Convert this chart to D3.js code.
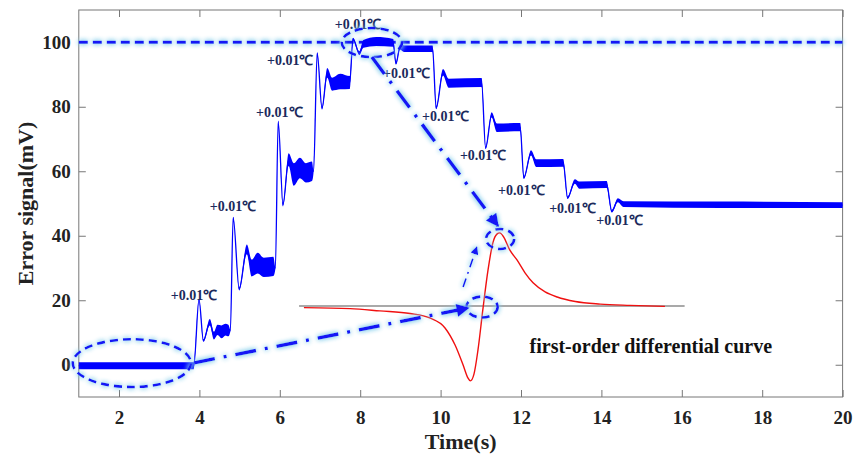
<!DOCTYPE html>
<html>
<head>
<meta charset="utf-8">
<script src="https://cdn.jsdelivr.net/npm/d3@7"></script>
<style>
  body { margin: 0; background: #fff; }
  text { font-family: "Liberation Serif", "Times New Roman", serif; font-weight: bold; }
</style>
</head>
<body>
<script>
// error signal: key points (s, mV) and half-width of the noise band
var sigTime = [1.0, 3.86, 3.99, 4.10, 4.26, 4.36, 4.45, 4.55, 4.65, 4.72, 4.77, 4.84, 4.99, 5.18,
  5.30, 5.45, 5.60, 5.84, 5.89, 5.96, 6.08, 6.22, 6.35, 6.50, 6.65, 6.80, 6.84, 6.93, 7.05, 7.18,
  7.30, 7.50, 7.74, 7.82, 7.98, 8.08, 8.40, 8.82, 8.89, 8.99, 9.10, 9.80, 9.89, 10.06, 10.20,
  11.02, 11.12, 11.27, 11.40, 11.98, 12.07, 12.25, 12.38, 13.05, 13.16, 13.34, 13.45, 14.13,
  14.26, 14.41, 14.55, 17.0, 20.0];
var sigValue = [-0.3, -0.3, 20.2, 7.5, 13.2, 9.0, 10.8, 10.2, 10.9, 10.6, 10.6, 45.6, 23.5, 35.8,
  30.0, 31.5, 30.2, 30.5, 30.0, 75.4, 49.7, 63.6, 59.0, 61.0, 59.5, 60.0, 60.0, 96.6, 79.6, 90.5,
  87.0, 87.8, 87.5, 101.0, 96.6, 99.5, 100.2, 99.8, 93.4, 98.5, 98.0, 98.0, 79.6, 90.7, 87.3,
  87.5, 67.2, 77.5, 73.5, 73.7, 58.0, 65.7, 62.5, 62.6, 51.8, 56.8, 55.7, 55.9,
  47.6, 51.0, 49.8, 49.6, 49.5];
var sigSpread = [1.1, 1.1, 0.3, 0.4, 1.0, 1.2, 1.6, 2.0, 1.8, 1.8, 0.3, 0.3, 0.5, 1.5,
  2.6, 3.2, 3.0, 3.0, 0.3, 0.3, 0.6, 2.0, 3.5, 3.2, 3.0, 3.0, 0.3, 0.3, 0.5, 1.5,
  2.0, 2.4, 2.0, 0.4, 0.6, 1.2, 1.4, 1.2, 0.4, 0.8, 1.0, 1.0, 0.4, 1.0, 1.4,
  1.4, 0.4, 0.8, 1.3, 1.3, 0.4, 0.8, 1.2, 1.2, 0.4, 0.7, 1.1, 1.1,
  0.4, 0.6, 0.9, 1.0, 0.9];

// reference level
var refLevel = 100;

// inset: first-order differential curve, drawn in the main axes units
var diffTime = [6.60, 7.75, 8.49, 9.24, 9.73, 10.11, 10.36, 10.56, 10.68, 10.74, 10.83, 10.93,
  11.05, 11.18, 11.30, 11.40, 11.47, 11.57, 11.72, 11.90, 12.10, 12.30, 12.60, 12.90, 13.35,
  13.97, 14.71, 15.58];
var diffValue = [17.7, 17.4, 16.7, 15.9, 14.5, 11.4, 6.1, -0.1, -4.1, -5.0, -2.9, 4.6,
  17.0, 29.4, 37.8, 40.5, 40.9, 39.6, 35.6, 32.5, 28.5, 25.4, 22.6, 21.0, 19.6,
  18.8, 18.4, 18.1];
var zeroLine = [[6.48, 18.2], [16.07, 18.2]];

// annotations
var stepLabel = '+0.01\u2103';
var stepLabelAt = [[3.29, 21.6], [4.26, 49.2], [5.41, 78.4], [5.68, 94.5], [7.37, 105.7],
  [8.57, 90.4], [9.54, 77.1], [10.48, 65.0], [11.43, 54.2], [12.70, 48.6], [13.87, 44.8]];
// ellipses: centre time, centre value, half-width (s), half-height (mV)
var ellipses = [[2.32, 0.5, 1.47, 7.4], [8.29, 99.9, 0.75, 4.5], [11.48, 39.0, 0.35, 3.1],
  [11.03, 17.9, 0.39, 3.25]];
// arrows: from (s, mV) to (s, mV)
var arrows = [[[3.87, 0.6], [10.69, 17.6]], [[8.29, 95.4], [11.43, 43.0]]];
var smallArrow = [[10.56, 24.1], [10.90, 36.5]];
var curveTitle = 'first-order differential curve';
var curveTitleAt = [15.23, 3.6];

var xTicks = [2, 4, 6, 8, 10, 12, 14, 16, 18, 20];
var yTicks = [0, 20, 40, 60, 80, 100];

var width = 854, height = 457;
var margin = {top: 10, right: 11.4, bottom: 60, left: 78.8};

var svg = d3.select('body').append('svg')
  .attr('width', width)
  .attr('height', height);

var x = d3.scaleLinear().domain([1, 20]).range([margin.left, width - margin.right]);
var y = d3.scaleLinear().domain([-10, 110]).range([height - margin.bottom, margin.top]);

var defs = svg.append('defs');
var glow = defs.append('filter').attr('id', 'glow')
  .attr('filterUnits', 'userSpaceOnUse')
  .attr('x', 0).attr('y', 0).attr('width', width).attr('height', height);
glow.append('feGaussianBlur').attr('in', 'SourceAlpha').attr('stdDeviation', 2.6).attr('result', 'b');
glow.append('feFlood').attr('flood-color', '#8ad0ec');
glow.append('feComposite').attr('in2', 'b').attr('operator', 'in').attr('result', 'g');
var merge = glow.append('feMerge');
merge.append('feMergeNode').attr('in', 'g');
merge.append('feMergeNode').attr('in', 'g');
merge.append('feMergeNode').attr('in', 'SourceGraphic');

function addHead(id, w, h) {
  defs.append('marker').attr('id', id)
    .attr('viewBox', '0 0 10 10')
    .attr('refX', 9).attr('refY', 5)
    .attr('markerUnits', 'userSpaceOnUse')
    .attr('markerWidth', w).attr('markerHeight', h)
    .attr('orient', 'auto')
    .append('path').attr('d', 'M0,0L10,5L0,10Z').attr('fill', '#1414f5');
}
addHead('head', 17, 13);
addHead('headSmall', 10, 8);

var blue = '#1414f5';

// frame + ticks
var tickLen = 7;
svg.append('g').attr('transform', 'translate(0,' + y(-10) + ')')
  .call(d3.axisBottom(x).tickValues(xTicks).tickSize(-tickLen).tickPadding(14))
  .call(styleAxis);
svg.append('g').attr('transform', 'translate(0,' + y(110) + ')')
  .call(d3.axisTop(x).tickValues(xTicks).tickSize(-tickLen).tickFormat(''))
  .call(styleAxis);
svg.append('g').attr('transform', 'translate(' + x(1) + ',0)')
  .call(d3.axisLeft(y).tickValues(yTicks).tickSize(-tickLen).tickPadding(8))
  .call(styleAxis);
svg.append('g').attr('transform', 'translate(' + x(20) + ',0)')
  .call(d3.axisRight(y).tickValues(yTicks).tickSize(-tickLen).tickFormat(''))
  .call(styleAxis);

function styleAxis(g) {
  g.select('.domain').remove();
  g.selectAll('line').attr('stroke', '#777');
  g.selectAll('text').attr('fill', '#222').style('font-size', '19px')
    .style('font-family', '"Liberation Serif", serif').style('font-weight', 'bold');
}

svg.append('rect')
  .attr('x', x(1)).attr('y', y(110))
  .attr('width', x(20) - x(1)).attr('height', y(-10) - y(110))
  .attr('fill', 'none').attr('stroke', '#777').attr('stroke-width', 1);

// axis titles
svg.append('text')
  .attr('x', (x(1) + x(20)) / 2).attr('y', 449)
  .attr('text-anchor', 'middle').style('font-size', '22px').attr('fill', '#222')
  .text('Time(s)');
svg.append('text')
  .attr('transform', 'translate(33,' + (y(-10) + y(110)) / 2 + ') rotate(-90)')
  .attr('text-anchor', 'middle').style('font-size', '22px').attr('fill', '#222')
  .text('Error signal(mV)');

// reference dashed line
svg.append('line')
  .attr('x1', x(1)).attr('x2', x(20))
  .attr('y1', y(refLevel)).attr('y2', y(refLevel))
  .attr('stroke', blue).attr('stroke-width', 3)
  .attr('stroke-dasharray', '9,5')
  .attr('filter', 'url(#glow)');

// error signal: noise band + centre line
var sig = sigTime.map(function(t, i) { return {t: t, v: sigValue[i], s: sigSpread[i]}; });
svg.append('path').datum(sig)
  .attr('d', d3.area()
    .x(function(d) { return x(d.t); })
    .y0(function(d) { return y(d.v - d.s); })
    .y1(function(d) { return y(d.v + d.s); })
    .curve(d3.curveMonotoneX))
  .attr('fill', '#0000ff');
svg.append('path').datum(sig)
  .attr('d', d3.line()
    .x(function(d) { return x(d.t); })
    .y(function(d) { return y(d.v); })
    .curve(d3.curveMonotoneX))
  .attr('fill', 'none').attr('stroke', '#0000ff').attr('stroke-width', 1.3);

// inset zero line + differential curve
svg.append('path').datum(zeroLine)
  .attr('d', d3.line().x(function(d) { return x(d[0]); }).y(function(d) { return y(d[1]); }))
  .attr('stroke', '#8c8c8c').attr('stroke-width', 1.6);
svg.append('path').datum(diffTime.map(function(t, i) { return [t, diffValue[i]]; }))
  .attr('d', d3.line()
    .x(function(d) { return x(d[0]); })
    .y(function(d) { return y(d[1]); })
    .curve(d3.curveMonotoneX))
  .attr('fill', 'none').attr('stroke', '#f01010').attr('stroke-width', 1.4);

// step labels
svg.selectAll('.step').data(stepLabelAt).enter()
  .append('text').attr('class', 'step')
  .attr('x', function(d) { return x(d[0]); })
  .attr('y', function(d) { return y(d[1]); })
  .attr('dy', '0.35em')
  .attr('fill', '#1b2a5c').style('font-size', '14px')
  .text(stepLabel);

svg.append('text')
  .attr('x', x(curveTitleAt[0])).attr('y', y(curveTitleAt[1]))
  .attr('text-anchor', 'middle').style('font-size', '20px').attr('fill', '#111')
  .text(curveTitle);

// highlight ellipses
svg.selectAll('.ring').data(ellipses).enter()
  .append('ellipse').attr('class', 'ring')
  .attr('cx', function(d) { return x(d[0]); })
  .attr('cy', function(d) { return y(d[1]); })
  .attr('rx', function(d) { return x(d[0] + d[2]) - x(d[0]); })
  .attr('ry', function(d) { return y(d[1] - d[3]) - y(d[1]); })
  .attr('fill', 'none').attr('stroke', blue).attr('stroke-width', 2.6)
  .attr('stroke-dasharray', '8,5')
  .attr('filter', 'url(#glow)');

// dash-dot arrows
svg.selectAll('.arrow').data(arrows).enter()
  .append('line').attr('class', 'arrow')
  .attr('x1', function(d) { return x(d[0][0]); })
  .attr('y1', function(d) { return y(d[0][1]); })
  .attr('x2', function(d) { return x(d[1][0]); })
  .attr('y2', function(d) { return y(d[1][1]); })
  .attr('stroke', blue).attr('stroke-width', 3.4)
  .attr('stroke-dasharray', '21,9,3,9')
  .attr('marker-end', 'url(#head)')
  .attr('filter', 'url(#glow)');

svg.append('line')
  .attr('x1', x(smallArrow[0][0])).attr('y1', y(smallArrow[0][1]))
  .attr('x2', x(smallArrow[1][0])).attr('y2', y(smallArrow[1][1]))
  .attr('stroke', blue).attr('stroke-width', 1.6)
  .attr('stroke-dasharray', '9,5,2,5')
  .attr('marker-end', 'url(#headSmall)')
  .attr('filter', 'url(#glow)');
</script>
</body>
</html>
